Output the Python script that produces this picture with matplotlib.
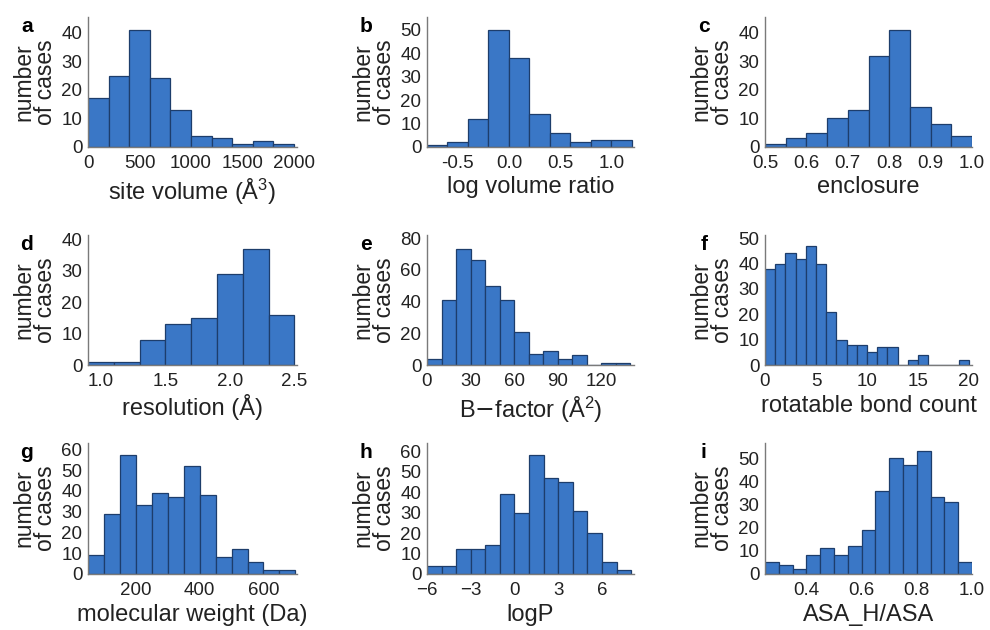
import numpy as np
import matplotlib
matplotlib.use("Agg")
import matplotlib.pyplot as plt

plt.rcParams['font.family'] = ['Liberation Sans', 'DejaVu Sans']

# histogram counts per panel, bins read as (start, stop, width)
site_volume = [17, 25, 41, 24, 13, 4, 3, 1, 2, 1]
log_volume_ratio = [1, 2, 12, 50, 38, 14, 6, 2, 3, 3]
enclosure = [1, 3, 5, 10, 13, 32, 41, 14, 8, 4]
resolution = [1, 1, 8, 13, 15, 29, 37, 16]
b_factor = [4, 41, 73, 66, 50, 41, 21, 7, 9, 4, 6, 0, 1, 1]
rot_bonds = [38, 40, 44, 42, 47, 40, 21, 10, 8, 8, 5, 7, 7, 0, 2, 4, 0, 0, 0, 2]
mol_weight = [9, 29, 57, 33, 39, 37, 52, 38, 8, 12, 6, 2, 2]
logp = [4, 4, 12, 12, 14, 39, 30, 58, 47, 45, 31, 20, 6, 2]
asa_ratio = [5, 4, 2, 8, 11, 8, 12, 19, 36, 50, 47, 53, 33, 31, 5]

panels = [
    # letter, counts, (start, stop, width), xlabel, xticks, ymax, yticks, xmax
    ('a', site_volume, (0, 2000, 200), r'site volume ($\mathregular{\AA^3}$)',
     [0, 500, 1000, 1500, 2000], 45.5, [0, 10, 20, 30, 40], 2030),
    ('b', log_volume_ratio, (-0.8, 1.2, 0.2), 'log volume ratio',
     [-0.5, 0.0, 0.5, 1.0], 55.5, [0, 10, 20, 30, 40, 50], 1.22),
    ('c', enclosure, (0.5, 1.0, 0.05), 'enclosure',
     [0.5, 0.6, 0.7, 0.8, 0.9, 1.0], 45.5, [0, 10, 20, 30, 40], 1.0),
    ('d', resolution, (0.9, 2.5, 0.2), 'resolution (Å)',
     [1.0, 1.5, 2.0, 2.5], 41.3, [0, 10, 20, 30, 40], 2.52),
    ('e', b_factor, (0, 140, 10), r'B$-$factor ($\mathregular{\AA^2}$)',
     [0, 30, 60, 90, 120], 82, [0, 20, 40, 60, 80], 142.5),
    ('f', rot_bonds, (0, 20, 1), 'rotatable bond count',
     [0, 5, 10, 15, 20], 51.3, [0, 10, 20, 30, 40, 50], 20.3),
    ('g', mol_weight, (50, 700, 50), 'molecular weight (Da)',
     [200, 400, 600], 63, [0, 10, 20, 30, 40, 50, 60], 705),
    ('h', logp, (-6, 8, 1), 'logP',
     [-6, -3, 0, 3, 6], 64, [0, 10, 20, 30, 40, 50, 60], 8.2),
    ('i', asa_ratio, (0.25, 1.0, 0.05), 'ASA_H/ASA',
     [0.4, 0.6, 0.8, 1.0], 56.5, [0, 10, 20, 30, 40, 50], 1.0),
]

W, H = 990, 630
col_left = [88, 427, 765]
col_width = [209, 207, 207]
row_top = [17, 235, 443]
row_bottom = [147, 365, 574]

fig = plt.figure(figsize=(W / 100, H / 100), dpi=100)

for k, (letter, counts, (start, stop, width), xlabel, xticks, ymax, yticks, xmax) in enumerate(panels):
    r, c = divmod(k, 3)
    ax = fig.add_axes([col_left[c] / W, (H - row_bottom[r]) / H,
                       col_width[c] / W, (row_bottom[r] - row_top[r]) / H])
    n = len(counts)
    edges = start + width * np.arange(n + 1)
    ax.bar(edges[:-1], counts, width=width, align='edge',
           color='#3a77c6', edgecolor='#1d3d6b', linewidth=0.9)
    ax.set_xlim(start, xmax)
    ax.set_ylim(0, ymax)
    ax.set_xticks(xticks)
    ax.set_yticks(yticks)
    if letter in ('b', 'c', 'd', 'i'):
        ax.set_xticklabels(['%.1f' % t if t != 0 else '0.0' for t in xticks])
    for side in ('top', 'right'):
        ax.spines[side].set_visible(False)
    for side in ('left', 'bottom'):
        ax.spines[side].set_color('#7a7a7a')
        ax.spines[side].set_linewidth(1.0)
    ax.tick_params(length=0, labelsize=13.5, colors='#222222')
    ax.tick_params(axis='x', pad=6)
    ax.tick_params(axis='y', pad=4)
    ax.set_xlabel(xlabel, fontsize=17, color='#222222', labelpad=3)
    ax.set_ylabel('number\nof cases', fontsize=16.5, color='#222222',
                  linespacing=0.92, labelpad=3)
    ax.annotate(letter, xy=(0, 1), xycoords='axes fraction',
                xytext=(-44, -7), textcoords='offset points',
                fontsize=15, fontweight='bold', ha='center', va='center')

fig.savefig('out.png', dpi=100, facecolor='white')
